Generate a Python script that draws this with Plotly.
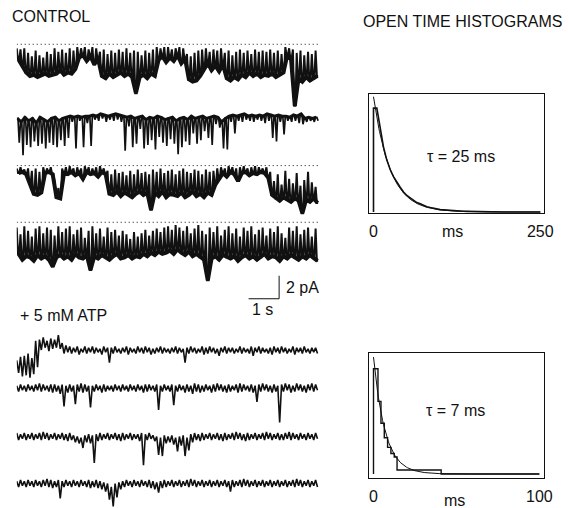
import math
import plotly.graph_objects as go

# ---------------------------------------------------------------------------
# Single-channel records: each record is stored as per-bin extents of the
# current (pA, relative to the closed level). "hi" = excursion towards the
# closed level, "lo" = excursion in the opening (inward, downward) direction.
# ---------------------------------------------------------------------------
DT = 0.124  # s per bin

c1_hi = [-0.2, -0.3, -0.2, -0.6, -0.9, -0.4, -0.8, -1.0, -0.5, -0.7,
         -0.2, -0.5, -0.3, -0.6, -0.2, -0.4, -0.1, -0.2, -0.1, -0.3,
         -0.1, -0.2, -0.5, -0.3, -0.7, -0.4, -0.6, -0.3, -0.5, -0.2,
         -0.6, -0.4, -0.5, -0.8, -0.4, -0.6, -0.3, -0.1, -0.2, -0.1,
         -0.1, -0.3, -0.2, -0.1, -0.2, -0.7, -0.9, -0.6, -0.4, -0.3,
         -0.2, -0.5, -0.3, -0.4, -0.2, -0.6, -0.4, -0.8, -0.5, -0.3,
         -0.6, -0.4, -0.7, -0.3, -0.5, -0.4, -0.5, -0.3, -0.6, -0.4,
         -0.7, -0.1, -0.2, -0.3, -0.6, -0.4, -0.8, -0.5, -0.7, -0.4]
c1_lo = [-1.2, -1.7, -2.3, -2.6, -2.5, -2.7, -2.5, -2.4, -2.6, -2.5,
         -2.4, -2.1, -2.5, -2.3, -2.4, -2.0, -1.0, -0.8, -1.3, -0.9,
         -1.6, -1.1, -2.6, -2.8, -2.4, -2.7, -2.5, -2.3, -2.6, -2.4,
         -2.7, -4.1, -2.7, -2.5, -2.8, -2.4, -2.6, -1.2, -0.9, -1.4,
         -1.0, -1.3, -0.8, -1.5, -1.1, -2.9, -3.1, -3.0, -2.6, -2.0,
         -1.5, -2.1, -1.7, -2.2, -1.6, -2.8, -3.0, -2.7, -2.9, -2.5,
         -2.7, -2.3, -2.6, -2.4, -2.7, -2.5, -2.6, -2.4, -2.7, -2.5,
         -2.3, -0.8, -1.1, -5.2, -2.8, -3.1, -2.7, -3.0, -2.8, -2.6]

c2_hi = [-0.3, -0.6, -0.2, -0.5, -0.3, -0.7, -0.2, -0.4, -0.6, -0.3,
         -0.2, -0.5, -0.3, -0.2, -0.1, -0.2, -0.1, -0.2, -0.1, -0.1,
         0.0, -0.1, 0.1, 0.0, -0.1, 0.0, 0.1, 0.0, -0.1, -0.2,
         -0.1, -0.3, -0.2, -0.1, -0.4, -0.2, -0.3, -0.1, -0.2, -0.4,
         -0.3, -0.2, -0.5, -0.3, -0.2, -0.4, -0.1, -0.3, -0.2, -0.1,
         -0.3, -0.2, -0.1, -0.2, -0.6, -0.3, -0.1, 0.0, -0.1, 0.0,
         0.1, -0.1, 0.0, -0.1, 0.0, -0.1, 0.1, 0.0, -0.1, 0.0,
         -0.1, -0.1, -0.2, 0.0, -0.1, 0.1, -0.3, -0.2, -0.3, -0.2]
c2_lo = [-2.4, -3.5, -2.6, -2.8, -2.3, -2.7, -2.5, -2.9, -2.4, -2.6,
         -2.8, -2.2, -2.7, -2.0, -0.6, -2.9, -0.5, -2.8, -0.7, -2.7,
         -0.4, -0.5, -0.3, -0.6, -0.4, -0.5, -0.4, -0.6, -3.1, -1.0,
         -2.8, -2.5, -1.2, -2.9, -2.6, -2.2, -3.0, -1.9, -2.4, -2.7,
         -2.1, -2.5, -3.4, -2.8, -2.3, -2.6, -1.6, -2.5, -2.2, -1.4,
         -2.0, -2.6, -0.8, -1.1, -2.9, -3.0, -0.6, -1.6, -0.5, -0.6,
         -0.4, -0.5, -0.6, -0.4, -0.5, -0.7, -0.5, -2.0, -2.3, -0.6,
         -1.7, -0.5, -0.6, -0.5, -0.7, -0.8, -0.6, -0.5, -0.6, -0.5]

c3_hi = [-0.1, 0.0, -0.2, -0.1, -0.3, -0.1, -0.4, 0.0, -0.1, 0.0,
         -1.2, -1.8, -0.1, 0.0, 0.1, -0.1, 0.0, -0.1, 0.1, 0.0,
         -0.1, 0.0, 0.1, -0.1, -0.3, -0.6, -0.2, -0.5, -0.4, -0.7,
         -0.3, -0.6, -0.2, -0.5, -0.4, -0.6, -0.2, -0.4, -0.1, -0.5,
         -0.3, -0.2, -0.6, -0.3, -0.1, -0.4, -0.5, -0.2, -0.3, -0.6,
         -0.2, -0.4, -0.3, -0.1, 0.0, -0.1, 0.1, 0.0, -0.1, 0.0,
         0.1, -0.1, 0.0, 0.1, 0.0, -0.1, 0.0, -0.4, -1.2, -0.6,
         -1.5, -0.3, -1.0, -1.4, -0.5, -1.6, -1.1, -0.4, -1.3, -1.7]
c3_lo = [-0.5, -0.4, -0.6, -1.4, -2.3, -2.4, -2.2, -0.5, -0.4, -0.6,
         -2.6, -2.7, -0.5, -0.6, -0.4, -0.7, -0.5, -1.0, -0.4, -0.6,
         -0.5, -0.8, -0.4, -0.6, -2.3, -2.4, -2.1, -2.5, -2.2, -2.4,
         -2.6, -2.3, -2.1, -2.4, -2.2, -3.7, -2.2, -2.5, -2.1, -2.6,
         -2.3, -2.4, -2.5, -2.2, -2.6, -2.4, -2.1, -2.5, -2.3, -2.6,
         -2.2, -2.4, -1.5, -1.0, -0.5, -0.8, -0.4, -0.6, -1.2, -0.5,
         -0.4, -0.7, -0.5, -0.6, -0.4, -0.5, -0.9, -2.4, -2.7, -2.9,
         -2.6, -2.8, -3.0, -2.7, -2.9, -4.0, -2.8, -3.0, -2.7, -3.1]

c4_hi = [-0.3, -0.9, -0.2, -0.6, -1.1, -0.4, -0.2, -0.8, -0.3, -0.5,
         -1.0, -0.2, -0.7, -0.4, -0.2, -0.9, -0.5, -0.3, -1.2, -0.6,
         -0.2, -0.8, -0.4, -1.1, -0.3, -0.7, -0.5, -1.0, -0.6, -0.9,
         -1.3, -0.7, -1.1, -0.8, -0.5, -1.0, -0.6, -0.4, -0.7, -0.3,
         -0.2, -0.5, -0.1, -0.3, -0.6, -0.2, -0.8, -0.4, -0.1, -0.6,
         -0.9, -0.3, -0.7, -0.2, -1.0, -0.5, -0.2, -0.8, -0.4, -1.1,
         -0.3, -0.6, -0.2, -0.9, -0.5, -0.3, -1.0, -0.4, -0.7, -0.2,
         -0.8, -1.2, -0.3, -0.6, -0.2, -0.9, -0.5, -0.3, -1.1, -0.4]
c4_lo = [-2.6, -3.1, -2.8, -2.9, -3.2, -2.7, -3.0, -2.8, -3.1, -3.7,
         -2.9, -2.7, -3.0, -2.8, -3.1, -2.6, -2.9, -3.0, -2.7, -4.0,
         -2.8, -3.0, -2.7, -2.9, -3.1, -2.8, -2.6, -3.0, -2.9, -2.7,
         -3.0, -2.8, -2.9, -2.6, -2.8, -2.5, -2.7, -2.4, -2.6, -2.5,
         -2.3, -2.6, -2.2, -2.5, -2.7, -2.4, -2.8, -2.6, -2.9, -3.1,
         -4.9, -3.0, -2.8, -3.1, -2.7, -2.9, -3.0, -2.8, -3.2, -2.9,
         -2.7, -3.0, -2.8, -3.1, -2.9, -2.6, -3.0, -2.8, -2.9, -3.2,
         -2.8, -3.0, -2.7, -2.9, -3.1, -2.8, -3.0, -2.7, -2.9, -3.2]

a1_hi = [-0.9, -0.6, -0.5, -0.3, -0.7, 0.8, 0.9, 1.1, 0.8, 1.0,
         0.9, 1.3, 0.6, 0.4, 0.3, 0.2, 0.3, 0.1, 0.3, 0.2,
         0.3, 0.2, 0.1, 0.3, 0.2, 0.2, 0.3, 0.1, 0.2, 0.3,
         0.2, 0.1, 0.3, 0.2, 0.3, 0.2, 0.1, 0.2, 0.3, 0.2,
         0.1, 0.2, 0.3, 0.2, 0.1, 0.2, 0.3, 0.2, 0.1, 0.3,
         0.2, 0.3, 0.2, 0.1, 0.2, 0.3, 0.2, 0.2, 0.1, 0.3,
         0.2, 0.1, 0.3, 0.2, 0.3, 0.2, 0.1, 0.2, 0.3, 0.2,
         0.3, 0.2, 0.1, 0.3, 0.2, 0.2, 0.3, 0.1, 0.2, 0.2]
a1_lo = [-2.0, -2.3, -2.2, -2.4, -2.1, -1.5, 0.0, 0.2, -0.1, 0.1,
         0.2, 0.1, -0.3, -0.2, -0.3, -0.2, -0.4, -0.2, -0.3, -0.2,
         -0.3, -0.2, -0.4, -0.2, -1.1, -0.3, -0.2, -0.3, -0.2, -0.4,
         -0.2, -0.3, -0.2, -0.3, -0.2, -0.4, -0.3, -0.2, -0.3, -0.2,
         -0.3, -0.2, -0.3, -0.2, -1.1, -0.3, -0.2, -0.3, -0.2, -0.4,
         -0.3, -0.2, -0.3, -0.5, -0.2, -0.3, -0.2, -0.3, -0.2, -0.3,
         -0.2, -0.3, -0.5, -0.2, -0.3, -0.2, -0.3, -0.4, -0.2, -0.3,
         -0.2, -0.3, -0.2, -0.4, -0.2, -0.3, -0.2, -0.3, -0.2, -0.3]

a2_hi = [0.2, 0.3, 0.2, 0.3, 0.2, 0.3, 0.4, 0.3, 0.2, 0.3,
         0.3, 0.2, 0.3, 0.2, 0.3, 0.2, 0.3, 0.4, 0.3, 0.2,
         0.2, 0.3, 0.2, 0.3, 0.2, 0.2, 0.3, 0.2, 0.3, 0.2,
         0.3, 0.2, 0.3, 0.2, 0.3, 0.3, 0.2, 0.3, 0.2, 0.3,
         0.2, 0.3, 0.2, 0.3, 0.2, 0.3, 0.2, 0.4, 0.3, 0.2,
         0.3, 0.2, 0.3, 0.4, 0.3, 0.2, 0.3, 0.2, 0.3, 0.4,
         0.3, 0.2, 0.3, 0.2, 0.3, 0.4, 0.3, 0.2, 0.3, 0.2,
         0.3, 0.4, 0.3, 0.2, 0.4, 0.3, 0.2, 0.3, 0.4, 0.3]
a2_lo = [-0.3, -0.2, -0.3, -0.2, -0.3, -0.2, -0.3, -0.2, -0.3, -0.4,
         -0.3, -0.5, -1.6, -0.4, -0.3, -1.4, -0.3, -0.4, -0.3, -1.7,
         -0.3, -0.2, -0.4, -0.3, -0.2, -0.3, -0.2, -0.3, -0.2, -0.3,
         -0.2, -0.3, -0.2, -0.4, -0.3, -0.2, -0.3, -1.9, -0.3, -0.2,
         -0.3, -1.5, -0.3, -0.2, -0.4, -0.3, -0.5, -0.3, -0.4, -0.3,
         -0.2, -0.4, -0.3, -0.2, -0.3, -0.4, -0.3, -0.2, -0.4, -0.3,
         -0.2, -0.3, -0.4, -1.2, -0.3, -0.2, -0.3, -0.4, -0.3, -3.0,
         -0.3, -0.2, -0.4, -0.3, -0.2, -0.3, -0.4, -0.2, -0.3, -0.2]

a3_hi = [0.3, 0.2, 0.3, 0.2, 0.3, 0.2, 0.3, 0.4, 0.3, 0.2,
         0.3, 0.2, 0.3, 0.2, 0.3, 0.1, 0.0, -0.1, 0.1, 0.2,
         0.1, 0.2, 0.3, 0.2, 0.3, 0.2, 0.3, 0.2, 0.3, 0.2,
         0.3, 0.2, 0.2, 0.3, 0.2, 0.3, 0.1, 0.0, -0.1, 0.1,
         0.0, 0.1, -0.1, 0.0, 0.1, -0.1, 0.2, 0.3, 0.2, 0.3,
         0.2, 0.3, 0.2, 0.3, 0.2, 0.3, 0.2, 0.3, 0.4, 0.3,
         0.2, 0.3, 0.2, 0.3, 0.2, 0.3, 0.4, 0.3, 0.2, 0.3,
         0.2, 0.3, 0.4, 0.3, 0.2, 0.3, 0.2, 0.3, 0.2, 0.3]
a3_lo = [-0.3, -0.2, -0.3, -0.2, -0.3, -0.2, -0.3, -0.2, -0.3, -0.2,
         -0.3, -0.2, -0.3, -0.4, -0.3, -0.5, -0.6, -1.0, -0.5, -0.6,
         -2.3, -0.4, -0.3, -0.2, -0.3, -0.2, -0.3, -0.4, -0.3, -0.2,
         -0.3, -0.2, -0.4, -2.5, -0.3, -0.2, -0.4, -1.6, -1.7, -0.6,
         -0.5, -0.7, -1.3, -0.8, -1.7, -1.2, -0.5, -0.3, -0.4, -0.3,
         -0.2, -0.3, -0.2, -0.3, -0.4, -0.3, -0.2, -0.3, -0.2, -0.3,
         -0.4, -0.3, -0.2, -0.3, -0.2, -0.3, -0.2, -0.3, -0.2, -0.3,
         -0.3, -0.2, -0.3, -0.2, -0.3, -0.2, -0.3, -0.2, -0.3, -0.2]

a4_hi = [0.2, 0.3, 0.2, 0.3, 0.2, 0.3, 0.2, 0.3, 0.4, 0.3,
         0.2, 0.3, 0.2, 0.3, 0.2, 0.3, 0.2, 0.3, 0.2, 0.3,
         0.2, 0.3, 0.2, 0.1, 0.0, -0.3, 0.0, 0.1, 0.2, 0.3,
         0.2, 0.3, 0.2, 0.3, 0.2, 0.3, 0.2, 0.1, 0.2, 0.3,
         0.2, 0.3, 0.2, 0.3, 0.2, 0.3, 0.4, 0.3, 0.2, 0.3,
         0.2, 0.3, 0.2, 0.3, 0.2, 0.3, 0.2, 0.3, 0.2, 0.3,
         0.4, 0.3, 0.2, 0.3, 0.2, 0.3, 0.2, 0.3, 0.2, 0.3,
         0.2, 0.3, 0.2, 0.3, 0.4, 0.3, 0.2, 0.3, 0.2, 0.3]
a4_lo = [-0.3, -0.2, -0.3, -0.2, -0.3, -0.2, -0.3, -0.2, -0.3, -0.4,
         -0.3, -1.3, -0.3, -0.2, -0.3, -0.2, -0.3, -0.2, -0.3, -0.4,
         -0.3, -0.4, -0.5, -0.7, -1.4, -2.0, -1.2, -0.5, -0.3, -0.2,
         -0.3, -0.2, -0.3, -0.2, -0.3, -0.4, -0.5, -0.8, -0.4, -0.3,
         -0.2, -0.3, -0.2, -0.3, -0.2, -0.3, -0.2, -0.3, -0.2, -0.3,
         -0.2, -0.3, -0.2, -0.3, -0.2, -0.3, -0.7, -0.3, -0.2, -0.3,
         -0.2, -0.3, -0.2, -0.3, -0.2, -0.3, -0.2, -0.3, -0.2, -0.3,
         -0.2, -0.3, -0.2, -0.3, -0.2, -0.3, -0.2, -0.3, -0.2, -0.3]

# ---------------------------------------------------------------------------
# Open-time histograms (normalised counts) and fitted time constants
# ---------------------------------------------------------------------------
TAU_CTRL = 25   # ms
TAU_ATP = 7     # ms
FIT_AMP_CTRL = 0.977
FIT_AMP_ATP = 0.967

ctrl_bin_ms = 5
ctrl_counts = [0.88, 0.70, 0.55, 0.44, 0.36, 0.30, 0.25, 0.21, 0.17, 0.14,
               0.12, 0.10, 0.08, 0.07, 0.055, 0.045, 0.038, 0.030, 0.025, 0.020,
               0.018, 0.015, 0.012, 0.010, 0.008, 0.007, 0.006, 0.005, 0.004, 0.003,
               0.003, 0.002, 0.002, 0.001, 0.001, 0.0, 0.0, 0.0, 0.0, 0.0,
               0.0, 0.0, 0.0, 0.0, 0.0, 0.0, 0.0, 0.0, 0.0, 0.0]

atp_edges = [0, 2.7, 4.5, 6.5, 8.5, 10.5, 12.5, 14.2, 40.8, 100]
atp_counts = [0.87, 0.60, 0.42, 0.30, 0.22, 0.17, 0.14, 0.033, 0.0]

# ---------------------------------------------------------------------------
# Page geometry (pixels)
# ---------------------------------------------------------------------------
W, H = 569, 508
PX_PER_S = 31.0
PX_PER_PA = 11.5
TRACE_LEFT = 17
INK = "#111111"
FONT = "Liberation Sans, Arial, sans-serif"

# (hi, lo, closed-level px row, axis top px, axis bottom px, dotted baseline,
#  dwell level, noise-strip width (0 = none), flicker line width)
records = [
    (c1_hi, c1_lo, 46.0, 34, 112, True, "lo", 4.0, 2.0),
    (c2_hi, c2_lo, 115.0, 104, 156, False, "hi", 3.0, 1.7),
    (c3_hi, c3_lo, 167.3, 156, 218, True, "lo", 4.0, 2.0),
    (c4_hi, c4_lo, 224.0, 212, 318, True, "lo", 4.0, 2.0),
    (a1_hi, a1_lo, 350.0, 328, 382, False, "hi", 0, 1.6),
    (a2_hi, a2_lo, 388.0, 376, 430, False, "hi", 0, 1.6),
    (a3_hi, a3_lo, 436.5, 424, 472, False, "hi", 0, 1.6),
    (a4_hi, a4_lo, 483.5, 471, 508, False, "hi", 0, 1.6),
]


def record_xy(hi, lo, dwell):
    # each bin: brief visit to one extreme, dwell at the other
    xs, ys = [], []
    for i, (h, l) in enumerate(zip(hi, lo)):
        t = i * DT
        xs += [t, t + DT / 3, t + 2 * DT / 3]
        ys += [h, l, l] if dwell == "lo" else [h, h, l]
    return xs, ys


def zigzag_xy(hi, lo):
    xs, ys = [], []
    for i, (h, l) in enumerate(zip(hi, lo)):
        t = i * DT
        xs += [t, t + DT / 2]
        ys += [h, l]
    return xs, ys


fig = go.Figure()
layout = dict(
    width=W, height=H, margin=dict(l=0, r=0, t=0, b=0),
    paper_bgcolor="white", plot_bgcolor="rgba(0,0,0,0)", showlegend=False,
)

x_span_s = 10.0
layout["xaxis"] = dict(
    domain=[TRACE_LEFT / W, (TRACE_LEFT + x_span_s * PX_PER_S) / W],
    range=[0, x_span_s], visible=False, anchor="y",
)

for k, (hi, lo, y0, top, bot, dotted, dwell, strip_w, lw) in enumerate(records, start=1):
    assert len(hi) == len(lo) == 80
    yname = "y" if k == 1 else f"y{k}"
    ykey = "yaxis" if k == 1 else f"yaxis{k}"
    layout[ykey] = dict(
        domain=[1 - bot / H, 1 - top / H],
        range=[-(bot - y0) / PX_PER_PA, (y0 - top) / PX_PER_PA],
        visible=False, anchor="x",
    )
    if dotted:
        t_end = len(hi) * DT
        fig.add_trace(go.Scatter(x=[0, t_end], y=[0.15, 0.15], mode="lines",
                                 xaxis="x", yaxis=yname,
                                 line=dict(color=INK, width=1, dash="1px,3px"),
                                 hoverinfo="skip"))
    if strip_w:
        # noise strip along the level the record dwells at
        if dwell == "lo":
            sx = [i * DT + DT / 2 for i in range(len(lo))]
            sy = lo
        else:
            sx = [i * DT + DT / 6 for i in range(len(hi))]
            sy = hi
        fig.add_trace(go.Scatter(x=sx, y=sy, mode="lines", xaxis="x", yaxis=yname,
                                 line=dict(color=INK, width=strip_w), hoverinfo="skip"))
        xs, ys = record_xy(hi, lo, dwell)
    else:
        xs, ys = zigzag_xy(hi, lo)
    fig.add_trace(go.Scatter(x=xs, y=ys, mode="lines", xaxis="x", yaxis=yname,
                             line=dict(color=INK, width=lw), hoverinfo="skip"))

# calibration bar (1 s, 2 pA) on the last control record's axes
BAR_T0, BAR_LEN_S, BAR_PA = 7.6, 1.0, 2.0
bar_level = -6.5
fig.add_trace(go.Scatter(
    x=[BAR_T0, BAR_T0 + BAR_LEN_S, BAR_T0 + BAR_LEN_S],
    y=[bar_level, bar_level, bar_level + BAR_PA],
    mode="lines", xaxis="x", yaxis="y4", line=dict(color=INK, width=1),
    hoverinfo="skip", cliponaxis=False))

annotations = [
    dict(text="2 pA", x=BAR_T0 + BAR_LEN_S + 0.15, y=bar_level + BAR_PA / 2,
         xref="x", yref="y4", xanchor="left", yanchor="middle"),
    dict(text="1 s", x=BAR_T0 + BAR_LEN_S / 2 - 0.05, y=bar_level - 0.95,
         xref="x", yref="y4", xanchor="center", yanchor="middle"),
]

# ---------------------------------------------------------------------------
# Histograms
# ---------------------------------------------------------------------------
def box_axes(xkey, ykey, xname, yname, left, right, top, bot, xr, yr, ticks):
    layout[xkey] = dict(
        domain=[left / W, right / W], range=xr, anchor=yname,
        showline=True, mirror=True, linecolor=INK, linewidth=1,
        showgrid=False, zeroline=False, ticks="",
        tickvals=ticks, ticktext=[str(v) for v in ticks],
        tickfont=dict(family=FONT, size=16, color=INK), ticklabelstandoff=4,
    )
    layout[ykey] = dict(
        domain=[1 - bot / H, 1 - top / H], range=yr, anchor=xname,
        showline=True, mirror=True, linecolor=INK, linewidth=1,
        showgrid=False, zeroline=False, showticklabels=False, ticks="",
    )


# control histogram: 0 ms at px 379.5, 250 ms at px 549
c_pxms = (549 - 379.5) / 250
box_axes("xaxis2", "yaxis9", "x2", "y9", 375, 553, 94, 213,
         [(375 - 379.5) / c_pxms, (553 - 379.5) / c_pxms],
         [-(213 - 212) / 118, (212 - 94) / 118], [0, 250])
# ATP histogram: 0 ms at px 379.5, 100 ms at px 548
a_pxms = (548 - 379.5) / 100
box_axes("xaxis3", "yaxis10", "x3", "y10", 375, 553, 353, 478,
         [(375 - 379.5) / a_pxms, (553 - 379.5) / a_pxms],
         [-(478 - 474) / 121, (474 - 353) / 121], [0, 100])


def outline_xy(edges, counts, x_end, smooth):
    # first bin drawn as a bar; later bins either as steps or joined at bin ends
    xs = [edges[0], edges[0], edges[1]]
    ys = [0.0, counts[0], counts[0]]
    for i in range(1, len(counts)):
        if smooth:
            xs.append(edges[i + 1])
            ys.append(counts[i])
        else:
            xs += [edges[i], edges[i + 1]]
            ys += [counts[i], counts[i]]
    xs += [edges[len(counts)], x_end]
    ys += [0.0, 0.0]
    return xs, ys


ctrl_edges = [i * ctrl_bin_ms for i in range(len(ctrl_counts) + 1)]
hx, hy = outline_xy(ctrl_edges, ctrl_counts, 250, smooth=True)
fig.add_trace(go.Scatter(x=hx, y=hy, mode="lines", xaxis="x2", yaxis="y9",
                         line=dict(color=INK, width=1.6), hoverinfo="skip"))
hx, hy = outline_xy(atp_edges, atp_counts, 100, smooth=False)
fig.add_trace(go.Scatter(x=hx, y=hy, mode="lines", xaxis="x3", yaxis="y10",
                         line=dict(color=INK, width=1.4), hoverinfo="skip"))

# single-exponential fits drawn from the quoted time constants
fx = [i * 1.0 for i in range(0, 251)]
fig.add_trace(go.Scatter(x=fx, y=[FIT_AMP_CTRL * math.exp(-t / TAU_CTRL) for t in fx],
                         mode="lines", xaxis="x2", yaxis="y9",
                         line=dict(color=INK, width=1), hoverinfo="skip"))
fx = [i * 0.5 for i in range(0, 201)]
fig.add_trace(go.Scatter(x=fx, y=[FIT_AMP_ATP * math.exp(-t / TAU_ATP) for t in fx],
                         mode="lines", xaxis="x3", yaxis="y10",
                         line=dict(color=INK, width=1), hoverinfo="skip"))


def pa(px_x, px_y, text, anchor="left"):
    return dict(text=text, x=px_x / W, y=1 - px_y / H, xref="paper", yref="paper",
                xanchor=anchor, yanchor="middle")


annotations += [
    pa(10, 16.5, "CONTROL"),
    pa(367, 21, "OPEN TIME HISTOGRAMS"),
    pa(18, 315, "+ 5 mM ATP"),
    pa(468, 156, f"\u03c4 = {TAU_CTRL} ms", "center"),
    pa(463, 410, f"\u03c4 = {TAU_ATP} ms", "center"),
    pa(460, 231, "ms", "center"),
    pa(462, 500, "ms", "center"),
]
for a in annotations:
    a["showarrow"] = False
    a["font"] = dict(family=FONT, size=16, color=INK)
layout["annotations"] = annotations

fig.update_layout(**layout)
fig.write_html("out.html")
